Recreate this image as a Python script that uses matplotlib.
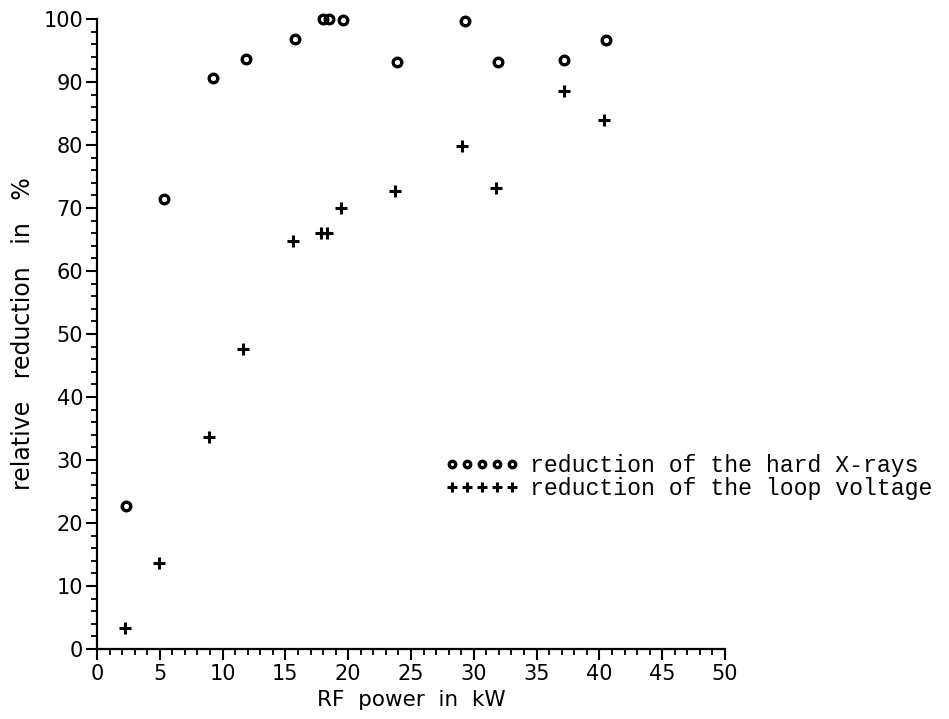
import numpy as np
import matplotlib
matplotlib.use("Agg")
import matplotlib.pyplot as plt
from matplotlib.ticker import MultipleLocator

# hard X-ray reduction (circles)
xray_power = [2.3, 5.3, 9.2, 11.9, 15.8, 18.0, 18.5, 19.6, 23.9, 29.3, 31.9, 37.2, 40.5]
xray_red = [22.7, 71.4, 90.6, 93.7, 96.8, 100.0, 100.0, 99.9, 93.2, 99.7, 93.2, 93.5, 96.6]

# loop voltage reduction (plus signs)
loop_power = [2.2, 4.9, 8.9, 11.6, 15.6, 17.8, 18.3, 19.4, 23.7, 29.1, 31.8, 37.2, 40.4]
loop_red = [3.4, 13.6, 33.6, 47.6, 64.8, 66.1, 66.1, 70.0, 72.7, 79.8, 73.2, 88.6, 83.9]

fig = plt.figure(figsize=(9.49, 7.19), dpi=100)
ax = fig.add_axes([97 / 949, 70 / 719, 628 / 949, 630 / 719])

ax.plot(xray_power, xray_red, linestyle="none", marker="o", ms=6.2,
        mfc="none", mec="black", mew=2.4, clip_on=False,
        label="reduction of the hard X-rays")
ax.plot(loop_power, loop_red, linestyle="none", marker="+", ms=9,
        color="black", mew=2.2, clip_on=False,
        label="reduction of the loop voltage")

ax.set_xlim(0, 50)
ax.set_ylim(0, 100)
ax.xaxis.set_major_locator(MultipleLocator(5))
ax.xaxis.set_minor_locator(MultipleLocator(1))
ax.yaxis.set_major_locator(MultipleLocator(10))
ax.yaxis.set_minor_locator(MultipleLocator(2))

for s in ["top", "right"]:
    ax.spines[s].set_visible(False)
for s in ["left", "bottom"]:
    ax.spines[s].set_linewidth(1.6)

ax.tick_params(which="major", length=8, width=1.5, labelsize=15)
ax.tick_params(which="minor", length=4.5, width=1.3)
ax.tick_params(axis="y", which="major", pad=2)
ax.tick_params(axis="x", which="major", pad=3)

ax.set_xlabel("RF  power  in  kW", fontsize=15.5, labelpad=4)
ax.set_ylabel("relative   reduction   in   %", fontsize=17, labelpad=6)

fig.legend(loc="center left", bbox_to_anchor=(445 / 949, 1 - 477 / 719),
           numpoints=5, handlelength=3.2, handletextpad=0.45, markerscale=0.75,
           labelspacing=0.0, borderpad=0, borderaxespad=0, frameon=False,
           prop={"family": "Liberation Mono", "size": 16.7})

fig.savefig("out.png", dpi=100)
